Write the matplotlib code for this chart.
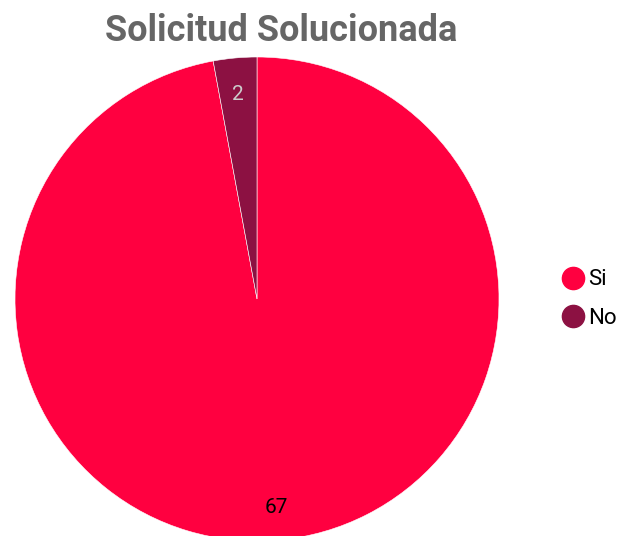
import matplotlib
matplotlib.use("Agg")
import matplotlib.pyplot as plt
from matplotlib.lines import Line2D

categories = ["Si", "No"]
values = [67, 2]
colors = ["#FF0040", "#8C1142"]
label_colors = ["#000000", "#CCCCCC"]

fig = plt.figure(figsize=(6.2, 5.36), dpi=100)
ax = fig.add_axes([15/620, -5/536, 484/620, 484/536])
wedges, texts = ax.pie(values, colors=colors, startangle=90, counterclock=False,
                       labels=[str(v) for v in values], labeldistance=0.855,
                       wedgeprops=dict(edgecolor="white", linewidth=0.4),
                       textprops=dict(fontsize=15, family="Roboto"))
for t, c in zip(texts, label_colors):
    t.set_color(c)
    t.set_ha("center")
    t.set_va("center_baseline")
ax.set_aspect("equal")
ax.set_xlim(-1, 1)
ax.set_ylim(-1, 1)

fig.text(281/620, 1 - 31/536, "Solicitud Solucionada", ha="center", va="center",
         fontsize=26, fontweight="bold", color="#666666", family="Roboto")

handles = [Line2D([0], [0], marker="o", linestyle="", markersize=16,
                  markerfacecolor=c, markeredgecolor=c) for c in colors]
fig.legend(handles, categories, loc="center left", bbox_to_anchor=(565/620, 1 - 299/536),
           frameon=False, prop=dict(family="Roboto", size=16), handlelength=0.7,
           handletextpad=0.35, labelspacing=0.78, borderpad=0, borderaxespad=0)

fig.savefig("out.png", dpi=100)
